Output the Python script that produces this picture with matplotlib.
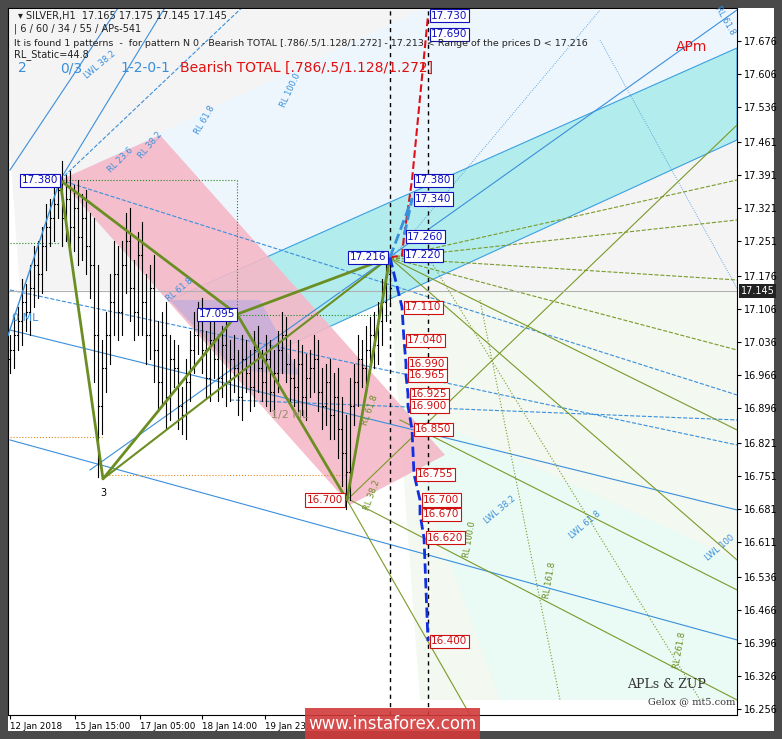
import matplotlib
matplotlib.use("Agg")
import matplotlib.pyplot as plt
from matplotlib.patches import Polygon, Rectangle

# ---------------- data ----------------
closes = [17.02,17.05,17.08,17.12,17.10,17.15,17.20,17.18,17.24,17.28,17.30,17.33,17.36,
          17.30,17.34,17.28,17.32,17.26,17.30,17.24,17.20,17.05,16.90,16.98,
          17.05,17.12,17.18,17.10,17.20,17.25,17.15,
          17.10,17.22,17.12,17.05,17.15,17.02,16.95,17.05,16.92,17.00,
          16.98,16.90,16.88,16.95,17.02,17.05,17.08,17.02,16.96,17.04,
          17.00,16.96,17.03,16.95,17.00,16.98,16.92,17.00,16.97,16.94,
          17.02,16.98,16.95,17.00,16.93,16.97,17.02,17.05,16.99,16.96,
          16.94,16.99,16.92,16.96,16.98,17.00,16.93,16.90,16.95,16.88,
          16.92,16.85,16.80,16.76,16.90,
          16.95,17.00,16.98,17.02,17.05,17.03,17.08,17.12,17.18,17.15]
wicks = [0.03,0.04,0.03,0.05,0.04,0.05,0.04,0.05,0.04,0.05,0.04,0.05,0.03,
         0.06,0.05,0.06,0.05,0.06,0.05,0.06,0.07,0.10,0.15,0.06,
         0.05,0.06,0.07,0.06,0.05,0.06,0.07,
         0.06,0.05,0.07,0.06,0.05,0.07,0.06,0.05,0.07,0.05,
         0.04,0.05,0.04,0.05,0.04,0.05,0.04,0.05,0.04,0.05,
         0.04,0.05,0.04,0.05,0.04,0.05,0.04,0.05,0.04,0.05,
         0.04,0.05,0.04,0.05,0.04,0.05,0.04,0.05,0.04,0.05,
         0.04,0.05,0.04,0.05,0.04,0.05,0.04,0.05,0.04,0.05,
         0.05,0.06,0.07,0.08,0.06,
         0.04,0.05,0.04,0.05,0.04,0.05,0.04,0.05,0.04,0.03]
start_price = 17.00
current_price = 17.145

pattern_labels = ["17.380", "3", "17.095", "16.700", "17.216"]
pattern_bars = [12.5, 23.25, 56.75, 84.25, 95.0]
pattern_prices = [17.380, 16.745, 17.095, 16.700, 17.216]

proj_up = [17.730, 17.690, 17.380, 17.340, 17.260, 17.220]
proj_down = [17.110, 17.040, 16.990, 16.965, 16.925, 16.900, 16.850, 16.755, 16.700, 16.670, 16.620, 16.400]
proj_up_bars = [104.5, 104.5, 100.5, 100.5, 98.5, 98.0]
proj_down_bars = [98.0, 98.5, 99.0, 99.0, 99.5, 99.5, 100.5, 101.0, 102.5, 102.5, 103.5, 104.5]

yticks = [17.676,17.606,17.536,17.461,17.391,17.321,17.251,17.176,17.106,17.036,16.966,
          16.896,16.821,16.751,16.681,16.611,16.536,16.466,16.396,16.326,16.256]
date_labels = ["12 Jan 2018", "15 Jan 15:00", "17 Jan 05:00", "18 Jan 14:00", "19 Jan 23:00"]
date_bars = [0, 16.25, 32.5, 48, 63.75]

# ---------------- figure ----------------
W, H = 782, 739
fig = plt.figure(figsize=(W/100, H/100), dpi=100, facecolor="#4a4a4a")
ax = fig.add_axes([8/W, (H-715)/H, 729/W, 707/H])
ax.set_facecolor("white")
X0, X1 = -0.5, 181.75
Y0, Y1 = 16.243, 17.746
ax.set_xlim(X0, X1); ax.set_ylim(Y0, Y1)

def P(px, py):
    return ((px-10)/4.0, 17.746-(py-8)*0.0021257)

def poly(pts, **kw):
    ax.add_patch(Polygon([P(*p) for p in pts], closed=True, **kw))

def line(p1, p2, **kw):
    a, b = P(*p1), P(*p2)
    ax.plot([a[0], b[0]], [a[1], b[1]], **kw)

# backgrounds
poly([(0,10),(737,10),(737,290),(20,290)], facecolor="#f4f4f4", edgecolor="none", zorder=0)
poly([(60,180),(420,10),(737,10),(737,140),(400,290),(230,370)], facecolor="#eef6fd", edgecolor="none", zorder=0)
poly([(390,290),(737,290),(737,700),(420,700)], facecolor="#f3f8f0", edgecolor="none", zorder=0)
poly([(390,400),(737,560),(737,700),(500,700)], facecolor="#eafaf4", edgecolor="none", zorder=0)
# cyan band
poly([(170,300),(737,48),(737,140),(235,370)], facecolor="#b3ecec", edgecolor="#3aa0e0", lw=0.8, zorder=1)
# pink band
poly([(60,180),(160,135),(445,455),(350,505)], facecolor="#f5b8c8", edgecolor="none", alpha=0.9, zorder=1)
poly([(170,300),(235,370),(300,375),(260,300)], facecolor="#b8a8e0", edgecolor="none", alpha=0.6, zorder=1)

# blue channel lines
for p1, p2, ls in [((10,330),(737,510),"-"), ((10,440),(737,640),"-"), ((60,180),(737,395),"--"),
                   ((10,290),(737,445),"--"), ((90,470),(737,10),"-"), ((60,180),(200,-50),"-"),
                   ((10,170),(150,-40),"-"), ((230,400),(737,420),"--"), ((60,180),(250,0),"--")]:
    line(p1, p2, color="#3a8fdc", lw=0.8, ls=ls, zorder=2)
line((390,260),(600,10), color="#3a8fdc", lw=0.6, ls=":", zorder=2)
line((600,40),(760,330), color="#3a8fdc", lw=0.6, ls=":", zorder=2)
# olive fan lines
for p1, p2, ls in [((390,258),(737,430),"-"), ((390,258),(737,560),"-"), ((350,500),(737,700),"-"),
                   ((390,258),(737,180),"--"), ((390,258),(737,220),"--"), ((390,258),(737,350),"--"),
                   ((347,500),(737,125),"-"), ((347,500),(470,715),"-"), ((390,258),(737,280),"--"),
                   ((400,420),(737,590),"-"), ((430,260),(700,700),":"), ((480,300),(560,700),":")]:
    line(p1, p2, color="#7a9a2a", lw=0.8, ls=ls, zorder=2)

# dotted guides
line((60,180),(237,180), color="#228822", lw=0.8, ls=":", zorder=2)
line((237,180),(237,315), color="#228822", lw=0.8, ls=":", zorder=2)
line((10,243),(60,243), color="#228822", lw=0.8, ls=":", zorder=2)
line((237,315),(390,315), color="#228822", lw=0.8, ls=":", zorder=2)
line((10,437),(103,437), color="#e08a20", lw=0.8, ls=":", zorder=2)
line((103,475),(347,475), color="#e08a20", lw=0.8, ls=":", zorder=2)

# candles
opens = [start_price] + closes[:-1]
for i, (o, c, w) in enumerate(zip(opens, closes, wicks)):
    hi, lo = max(o, c) + w, min(o, c) - w
    ax.plot([i, i], [lo, hi], color="black", lw=0.8, zorder=3)
    ax.plot([i-0.35, i], [o, o], color="black", lw=0.8, zorder=3)
    ax.plot([i, i+0.35], [c, c], color="black", lw=0.8, zorder=3)

# pattern zigzag
ax.plot(pattern_bars, pattern_prices, color="#6b8e23", lw=2, zorder=4)
ax.plot([pattern_bars[0], pattern_bars[2]], [pattern_prices[0], pattern_prices[2]], color="#6b8e23", lw=2, zorder=4)
ax.plot([pattern_bars[1], pattern_bars[4]], [pattern_prices[1], pattern_prices[4]], color="#6b8e23", lw=1.5, zorder=4)
ax.plot([pattern_bars[2], pattern_bars[4]], [pattern_prices[2], pattern_prices[4]], color="#6b8e23", lw=2, zorder=4)
ax.plot([-0.5, pattern_bars[0]], [17.05, pattern_prices[0]], color="#3a8fdc", lw=1, zorder=4)

ax.axhline(current_price, color="#b0b0b0", lw=0.8, zorder=2)
for b in [95.0, 104.5]:
    ax.axvline(b, color="black", lw=1, ls=(0, (3, 3)), zorder=4)

# projections
ax.plot([pattern_bars[4], proj_up_bars[5], proj_up_bars[4], proj_up_bars[2], proj_up_bars[0]],
        [pattern_prices[4], proj_up[5], proj_up[4], proj_up[2], proj_up[0]], color="#e0101a", lw=1.5, ls="--", zorder=5)
ax.plot([pattern_bars[4]] + proj_down_bars, [pattern_prices[4]] + proj_down, color="#1030e0", lw=2, ls="--", zorder=5)
ax.plot([pattern_bars[4], 100.5, 98.5], [pattern_prices[4], 17.34, 17.26], color="#3a8fdc", lw=2, ls="--", zorder=5)

def box(x, y, s, col, ha="left"):
    ax.text(x, y, s, fontsize=7.5, color=col, ha=ha, va="center", zorder=7,
            bbox=dict(boxstyle="square,pad=0.15", fc="white", ec=col, lw=0.8))

for b, v in zip(proj_up_bars, proj_up):
    box(b + 0.8, v, f"{v:.3f}", "#1010c0")
for b, v in zip(proj_down_bars, proj_down):
    box(b + 0.8, v, f"{v:.3f}", "#d01010")
box(pattern_bars[0]-0.5, 17.380, "17.380", "#1010c0", ha="right")
box(pattern_bars[2]-0.5, 17.095, "17.095", "#1010c0", ha="right")
box(pattern_bars[4]-1, 17.216, "17.216", "#1010c0", ha="right")
box(pattern_bars[3]-1, 16.700, "16.700", "#d01010", ha="right")
ax.text(pattern_bars[1], 16.725, "3", fontsize=7, va="top", ha="center", zorder=7)

for px, py, s, rot, col in [(100,65,"LWL 38.2",40,"#3a8fdc"), (290,90,"RL 100.0",65,"#3a8fdc"),
                            (205,120,"RL 61.8",60,"#3a8fdc"), (150,145,"RL 38.2",50,"#3a8fdc"),
                            (120,160,"RL 23.6",45,"#3a8fdc"), (180,290,"RL 61.8",40,"#3a8fdc"),
                            (25,318,"0 ML",0,"#3a8fdc"), (290,415,"1/2 ML",0,"#9a8a6a"),
                            (500,510,"LWL 38.2",40,"#3a8fdc"), (585,525,"LWL 61.8",40,"#3a8fdc"),
                            (720,548,"LWL 100",40,"#3a8fdc"), (470,540,"RL 100.0",80,"#6b8e23"),
                            (550,580,"RL 161.8",80,"#6b8e23"), (680,650,"RL 261.8",80,"#6b8e23"),
                            (370,410,"RL 61.8",70,"#6b8e23"), (372,495,"RL 38.2",70,"#6b8e23"),
                            (725,20,"RL 61.8",-60,"#3a8fdc")]:
    x, y = P(px, py)
    ax.text(x, y, s, fontsize=6 if rot else 8, rotation=rot, color=col, ha="center", va="center", zorder=6)

def ft(px, py, s, **kw):
    fig.text(px/W, 1-py/H, s, va="center", **kw)
ft(18, 16, "▾ SILVER,H1  17.165 17.175 17.145 17.145", fontsize=7, color="#222222")
ft(14, 29, "| 6 / 60 / 34 / 55 / APs-541", fontsize=7, color="#222222")
ft(14, 43, "It is found 1 patterns  -  for pattern N 0 - Bearish TOTAL [.786/.5/1.128/1.272] - 17.213 < Range of the prices D < 17.216",
   fontsize=6.8, color="#222222")
ft(14, 55, "RL_Static=44.8", fontsize=7, color="#222222")
ft(18, 68, "2", fontsize=10, color="#3a8fdc")
ft(60, 68, "0/3", fontsize=10, color="#3a8fdc")
ft(120, 68, "1-2-0-1", fontsize=10, color="#3a8fdc")
ft(180, 68, "Bearish TOTAL [.786/.5/1.128/1.272]", fontsize=10, color="#e01010")
ft(676, 47, "APm", fontsize=10, color="#e01010")
ft(627, 685, "APLs & ZUP", fontsize=9, color="#333333", family="serif")
ft(648, 702, "Gelox @ mt5.com", fontsize=7, color="#333333", family="serif")

ax.yaxis.tick_right()
ax.set_yticks(yticks)
ax.set_yticklabels([f"{v:.3f}" for v in yticks], fontsize=7)
ax.set_xticks(date_bars)
ax.set_xticklabels(date_labels, fontsize=6.3, ha="left")
ax.tick_params(colors="black", length=3, pad=2)
for lab in ax.get_xticklabels() + ax.get_yticklabels():
    lab.set_color("black")
for s in ax.spines.values():
    s.set_color("black")
fig.patches.append(Rectangle((737/W, 8/H), 37/W, 1-16/H, transform=fig.transFigure, fc="white", ec="none", zorder=-1))
fig.patches.append(Rectangle((8/W, 8/H), 766/W, 16/H, transform=fig.transFigure, fc="white", ec="none", zorder=-1))
ax.text(1.005, (current_price-Y0)/(Y1-Y0), f"{current_price:.3f}", transform=ax.transAxes, fontsize=7,
        color="white", va="center", ha="left", bbox=dict(boxstyle="square,pad=0.2", fc="#222222", ec="none"), zorder=8)
fig.patches.append(Rectangle((305/W, 0), 175/W, 31/H, transform=fig.transFigure, fc="#d23a3a", ec="none", alpha=0.9, zorder=10))
fig.text(392/W, 15/H, "www.instaforex.com", fontsize=12, color="white", ha="center", va="center", zorder=11)

fig.savefig("out.png", dpi=100, facecolor=fig.get_facecolor())
